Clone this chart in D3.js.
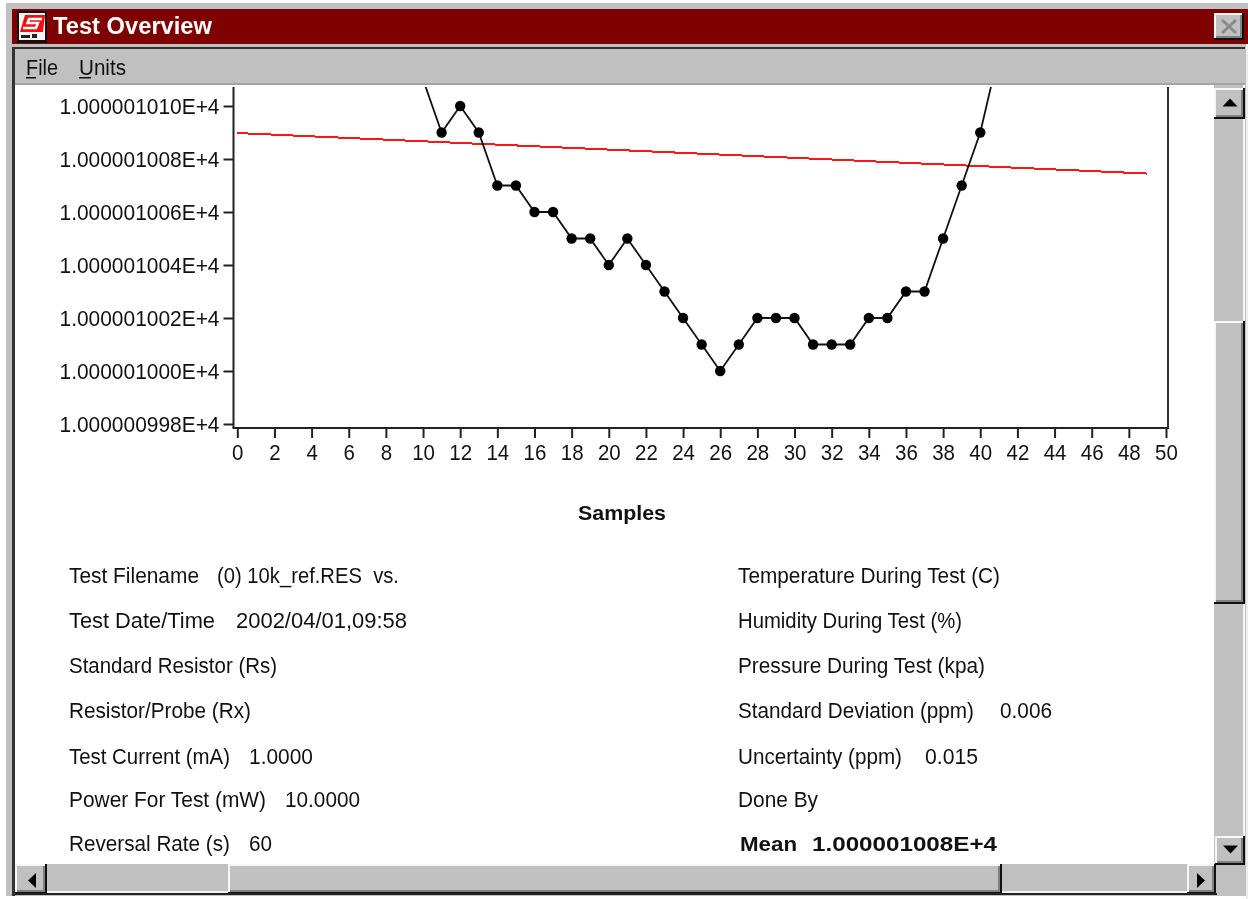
<!DOCTYPE html>
<html><head><meta charset="utf-8">
<script src="https://cdn.jsdelivr.net/npm/d3@7"></script>
<style>html,body{margin:0;padding:0;background:#fff;overflow:hidden}svg{display:block;filter:blur(.45px)}
text{font-family:"Liberation Sans",Arial,sans-serif;fill:#111;white-space:pre}</style></head><body>
<svg id="c" width="1248" height="899"></svg>
<script>
const sampleIds=[10,11,12,13,14,15,16,17,18,19,20,21,22,23,24,25,26,27,28,29,30,31,32,33,34,35,36,37,38,39,40,41];
const seriesValues=[1011,1009,1010,1009,1007,1007,1006,1006,1005,1005,1004,1005,1004,1003,1002,1001,1000,1001,1002,1002,1002,1001,1001,1001,1002,1002,1003,1003,1005,1007,1009,1012];
const trendSamples=[0,49];
const trendValues=[1008.98,1007.45];
const xTicks=d3.range(0,51,2);
const yTicks=[998,1000,1002,1004,1006,1008,1010];
const yLabel=v=>"1.00000"+(v<1000?"0":"1")+String(v<1000?v:v-1000).padStart(3,"0")+"E+4";
const leftLabels=["Test Filename","Test Date/Time","Standard Resistor (Rs)","Resistor/Probe (Rx)","Test Current (mA)","Power For Test (mW)","Reversal Rate (s)"];
const leftValues=["(0) 10k_ref.RES  vs.","2002/04/01,09:58","","","1.0000","10.0000","60"];
const rightLabels=["Temperature During Test (C)","Humidity During Test (%)","Pressure During Test (kpa)","Standard Deviation (ppm)","Uncertainty (ppm)","Done By"];
const rightValues=["","","","0.006","0.015",""];
const meanLabel="Mean";
const meanValue="1.000001008E+4";

const svg=d3.select("#c");
const R=(x,y,w,h,f)=>svg.append("rect").attr("x",x).attr("y",y).attr("width",w).attr("height",h).attr("fill",f);
const G="#c0c0c0";
const bevel=(x,y,w,h)=>{R(x,y,w,h,"#111");R(x,y,w-2,h-2,"#f6f6f6");R(x+2,y+2,w-4,h-4,G);R(x+w-4,y+2,2,h-4,"#808080");R(x+2,y+h-4,w-4,2,"#808080");};
const T=(s,x,y,size,len,bold)=>{const t=svg.append("text").attr("x",x).attr("y",y).attr("font-size",size).text(s);
  if(len)t.attr("textLength",len).attr("lengthAdjust","spacingAndGlyphs");if(bold)t.attr("font-weight",700);return t;};
// window frame
R(0,0,1248,899,"#fff");
R(6,3,1242,893,G);
R(12,9,1236,35,"#7f0000");
R(14,47,1231,2,"#333");
R(1246,44,2,855,"#ececec");
R(15,83,1230,2,"#a4a4a4");
R(12,47,3,849,"#333");
R(15,85,1199,779,"#fff");
// title icon
R(17,11,30,32,"#111");R(19,13,26,27,"#f4f4f4");
svg.append("path").attr("d","M25 15H45L43 32H20Z").attr("fill","#f01010");
svg.append("path").attr("d","M42 19H29L27.5 23H38L36 28H23").attr("fill","none").attr("stroke","#fff").attr("stroke-width",2.4);
R(21,35,9,3,"#222");R(32,34,5,4,"#222");
T("Test Overview",53,34,23,159,true).style("fill","#fff");
bevel(1214,13,30,27);
svg.append("path").attr("d","M1222 20L1236 33M1236 20L1222 33").attr("stroke","#8a8a8a").attr("stroke-width",3);
// menu
T("File",26,75,22.5,32);R(26,77,10,1.5,"#111");
T("Units",79,75,22.5,47);R(79,77,12,1.5,"#111");
// scrollbars
R(1214,85,29,780,G);R(1243,85,2,780,"#f4f4f4");
bevel(1214,88,31,31);
svg.append("path").attr("d","M1222.5 106.5h15l-7.5 -8z").attr("fill","#000");
bevel(1214,321,31,283);
bevel(1215,836,30,29);
svg.append("path").attr("d","M1223 845.5h15l-7.5 8z").attr("fill","#000");
R(15,864,1199,29,G);R(15,891,1199,2,"#f4f4f4");
bevel(15,864,32,30);
svg.append("path").attr("d","M36 873v15l-8 -7.5z").attr("fill","#000");
bevel(228,864,774,30);
bevel(1187,864,29,30);
svg.append("path").attr("d","M1197 873v15l8 -7.5z").attr("fill","#000");
R(15,893,1202,2,"#222");
// chart
const x=d3.scaleLinear().domain([0,50]).range([237.3,1166]);
const y=d3.scaleLinear().domain([1000,1010]).range([371,106]);
const plotTop=87, axisY=428, axisX=233.5, axisR=1168;
svg.append("defs").append("clipPath").attr("id","p").append("rect").attr("x",axisX).attr("y",plotTop).attr("width",axisR-axisX).attr("height",axisY-plotTop);
const gx=svg.append("g").attr("transform",`translate(0,${axisY})`).call(d3.axisBottom(x).tickValues(xTicks).tickSize(10).tickPadding(6));
const gy=svg.append("g").attr("transform",`translate(${axisX},0)`).call(d3.axisLeft(y).tickValues(yTicks).tickSize(10).tickPadding(4).tickFormat(yLabel));
[gx,gy].forEach(g=>{g.select(".domain").remove();g.selectAll("line").attr("stroke","#222").attr("stroke-width",2);
  g.selectAll("text").attr("font-size",22).attr("font-family",'"Liberation Sans"').attr("lengthAdjust","spacingAndGlyphs");});
gx.selectAll("text").attr("textLength",function(){return this.textContent.length*11.4;});
gy.selectAll("text").attr("textLength",160);
svg.append("line").attr("x1",axisX).attr("x2",axisX).attr("y1",plotTop).attr("y2",axisY).attr("stroke","#222").attr("stroke-width",2);
svg.append("line").attr("x1",axisX-1).attr("x2",axisR+1).attr("y1",axisY).attr("y2",axisY).attr("stroke","#222").attr("stroke-width",2);
svg.append("line").attr("x1",axisR).attr("x2",axisR).attr("y1",plotTop).attr("y2",axisY).attr("stroke","#333").attr("stroke-width",2);
const pl=svg.append("g").attr("clip-path","url(#p)");
pl.append("path").datum(trendSamples.map((s,i)=>[s,trendValues[i]])).attr("d",d3.line().x(d=>x(d[0])).y(d=>y(d[1]))).attr("fill","none").attr("stroke","#f81818").attr("stroke-width",2).attr("shape-rendering","crispEdges");
const pts=sampleIds.map((s,i)=>[s,seriesValues[i]]);
pl.append("path").datum(pts).attr("d",d3.line().x(d=>x(d[0])).y(d=>y(d[1]))).attr("fill","none").attr("stroke","#111").attr("stroke-width",1.8);
pl.selectAll("circle").data(pts).join("circle").attr("cx",d=>x(d[0])).attr("cy",d=>y(d[1])).attr("r",5.2).attr("fill","#000");
T("Samples",578,520,20,88,true);
// info rows (layout only)
const rowY=[583,628,673,718,764,807,851];
const leftEnd=[199,215,277,251,230,266,230], leftVS=[217,236,0,0,249,285,249], leftVE=[399,407,0,0,313,360,272];
const rightEnd=[1000,962,985,974,902,818], rightVS=[0,0,0,1000,925,0], rightVE=[0,0,0,1052,978,0];
const BODY=22.5;
leftLabels.forEach((s,i)=>{T(s,69,rowY[i],BODY,leftEnd[i]-69);if(leftValues[i])T(leftValues[i],leftVS[i],rowY[i],BODY,leftVE[i]-leftVS[i]);});
rightLabels.forEach((s,i)=>{T(s,738,rowY[i],BODY,rightEnd[i]-738);if(rightValues[i])T(rightValues[i],rightVS[i],rowY[i],BODY,rightVE[i]-rightVS[i]);});
T(meanLabel,740,851,20,57,true);
T(meanValue,812,851,20,185,true);
</script></body></html>
